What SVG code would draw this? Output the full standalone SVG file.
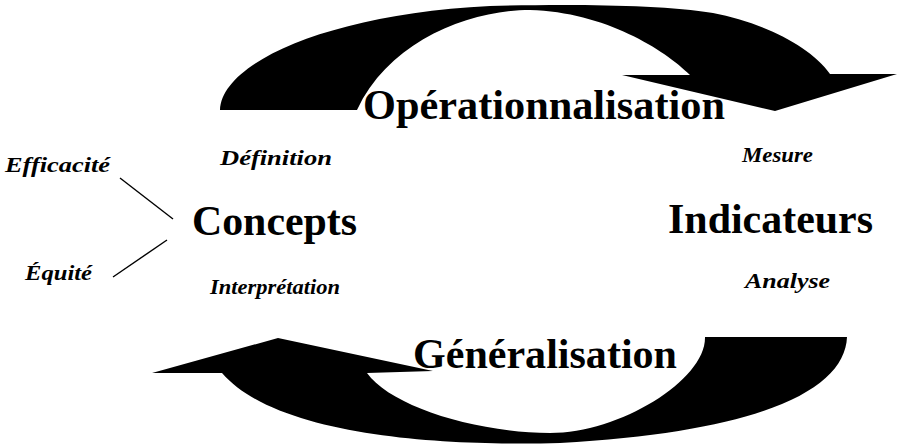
<svg xmlns="http://www.w3.org/2000/svg" width="898" height="444" viewBox="0 0 898 444">
  <style>
    .bg { fill: #ffffff; }
    .band { fill: #000000; stroke: none; }
    .big { font-family: "Liberation Serif", "Times New Roman", serif; font-weight: bold; font-size: 42px; fill: #000000; }
    .lbl { font-family: "Liberation Serif", "Times New Roman", serif; font-weight: bold; font-style: italic; font-size: 22px; fill: #000000; }
    .link { stroke: #000000; stroke-width: 1.4; fill: none; }
  </style>
  <rect class="bg" x="0" y="0" width="898" height="444"/>

  <!-- curved arrows between the two nodes -->
  <g id="connectors">
    <g id="arrow-operationnalisation">
      <path class="band" d="M220,110 C222,62 330,14 490,6 C560,4 660,4 713,13 C760,22 810,45 830,74 L897,74 L775,111 L622,75 L690,75 C665,50 605,12 530,10 C470,10 390,40 357,110 Z"/>
      <text class="big" x="363" y="119" textLength="362" lengthAdjust="spacingAndGlyphs">Opérationnalisation</text>
    </g>
    <g id="arrow-generalisation">
      <path class="band" d="M152,373 L278,338 L433,371 L367,373 C390,405 470,432 550,433 C620,433 706,380 705,337 L847,337 C845,390 760,432 560,443 C460,446 280,440 222,373 Z"/>
      <text class="big" x="413" y="368" textLength="264" lengthAdjust="spacingAndGlyphs">Généralisation</text>
    </g>
    <line class="link" x1="120" y1="178" x2="173" y2="219"/>
    <line class="link" x1="113" y1="277" x2="167" y2="240"/>
  </g>

  <g id="node-concepts">
    <text class="big" x="192" y="235" textLength="165" lengthAdjust="spacingAndGlyphs">Concepts</text>
    <text class="lbl" x="220" y="165" textLength="112" lengthAdjust="spacingAndGlyphs">Définition</text>
    <text class="lbl" x="210" y="294" textLength="130" lengthAdjust="spacingAndGlyphs">Interprétation</text>
  </g>

  <g id="node-indicateurs">
    <text class="big" x="668" y="233" textLength="205" lengthAdjust="spacingAndGlyphs">Indicateurs</text>
    <text class="lbl" x="742" y="162" textLength="71" lengthAdjust="spacingAndGlyphs">Mesure</text>
    <text class="lbl" x="745" y="288" textLength="85" lengthAdjust="spacingAndGlyphs">Analyse</text>
  </g>

  <g id="node-efficacite">
    <text class="lbl" x="5" y="172" textLength="105" lengthAdjust="spacingAndGlyphs">Efficacité</text>
  </g>

  <g id="node-equite">
    <text class="lbl" x="25" y="280" textLength="67" lengthAdjust="spacingAndGlyphs">Équité</text>
  </g>
</svg>
